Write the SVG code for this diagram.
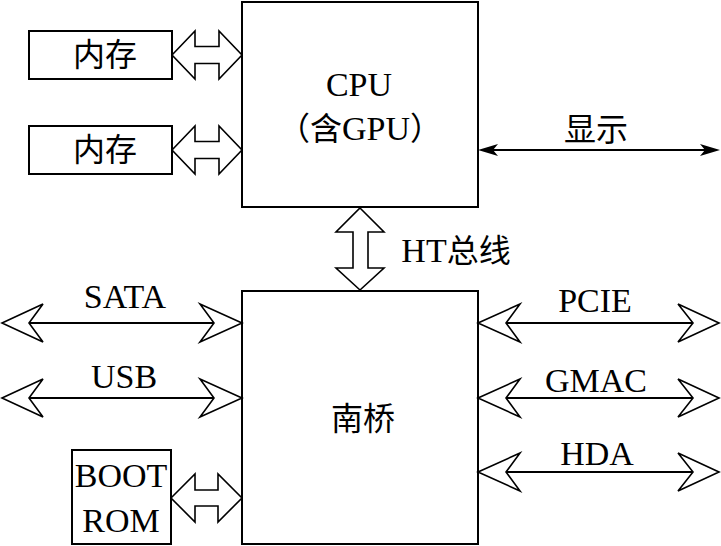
<svg xmlns="http://www.w3.org/2000/svg" width="721" height="546" viewBox="0 0 721 546">
<style>
.box{fill:#fff;stroke:#000;stroke-width:2}
.blk{fill:#fff;stroke:#000;stroke-width:1.6;stroke-linejoin:miter}
.ln{stroke:#000;stroke-width:2;fill:none}
.oh{fill:#fff;stroke:#000;stroke-width:1.6;stroke-linejoin:miter}
.fh{fill:#000;stroke:none}
text{font-family:"Liberation Serif","Noto Sans CJK SC",serif;font-size:34px;fill:#000;text-anchor:middle}
.cjk{font-size:32px}
</style>
<rect width="721" height="546" fill="#fff"/>
<g id="cpu">
<rect class="box" x="242" y="2" width="236" height="205"/>
<text x="359" y="96">CPU</text>
<text x="360" y="140"><tspan class="cjk">（含</tspan>GPU<tspan class="cjk">）</tspan></text>
</g>
<g id="southbridge">
<rect class="box" x="242" y="291" width="236" height="253"/>
<text class="cjk" x="363" y="430">南桥</text>
</g>
<g id="mem1">
<rect class="box" x="29" y="31" width="143" height="48"/>
<text class="cjk" x="105" y="66">内存</text>
</g>
<g id="mem2">
<rect class="box" x="29" y="126" width="143" height="48"/>
<text class="cjk" x="105" y="161">内存</text>
</g>
<g id="bootrom">
<rect class="box" x="72" y="450" width="99" height="94"/>
<text x="121" y="487">BOOT</text>
<text x="121" y="532">ROM</text>
</g>
<g id="connectors">
<path class="blk" d="M172,55 L195,31 L195,46.5 L219,46.5 L219,31 L242,55 L219,79 L219,63.5 L195,63.5 L195,79 Z"/>
<path class="blk" d="M172,150 L195,126 L195,141.5 L219,141.5 L219,126 L242,150 L219,174 L219,158.5 L195,158.5 L195,174 Z"/>
<path class="blk" d="M171,498 L195,474 L195,490 L218,490 L218,474 L242,498 L218,522 L218,506 L195,506 L195,522 Z"/>
<path class="blk" d="M360,208 L384,232 L368,232 L368,268 L384,268 L360,290 L336,268 L353,268 L353,232 L336,232 Z"/>
<line class="ln" x1="490" y1="150" x2="708" y2="150"/>
<path class="fh" d="M478,150 L498,144 L493,150 L498,156 Z"/>
<path class="fh" d="M720,150 L700,144 L705,150 L700,156 Z"/>
<line class="ln" x1="29" y1="323" x2="214" y2="323"/>
<path class="oh" d="M2,323 L43,304 L29,323 L43,342 Z"/>
<path class="oh" d="M242,323 L200,304 L214,323 L200,342 Z"/>
<line class="ln" x1="29" y1="398" x2="214" y2="398"/>
<path class="oh" d="M2,398 L43,379 L29,398 L43,417 Z"/>
<path class="oh" d="M242,398 L200,379 L214,398 L200,417 Z"/>
<line class="ln" x1="506" y1="323" x2="693" y2="323"/>
<path class="oh" d="M478,323 L520,304 L506,323 L520,342 Z"/>
<path class="oh" d="M719,323 L678,304 L693,323 L678,342 Z"/>
<line class="ln" x1="506" y1="398" x2="693" y2="398"/>
<path class="oh" d="M478,398 L520,379 L506,398 L520,417 Z"/>
<path class="oh" d="M719,398 L678,379 L693,398 L678,417 Z"/>
<line class="ln" x1="506" y1="472" x2="693" y2="472"/>
<path class="oh" d="M478,472 L520,453 L506,472 L520,491 Z"/>
<path class="oh" d="M719,472 L678,453 L693,472 L678,491 Z"/>
</g>
<g id="labels">
<text x="456" y="262">HT<tspan class="cjk">总线</tspan></text>
<text class="cjk" x="596" y="141">显示</text>
<text x="125" y="308">SATA</text>
<text x="124" y="388">USB</text>
<text x="595" y="312">PCIE</text>
<text x="596" y="392">GMAC</text>
<text x="597" y="465">HDA</text>
</g>
</svg>
